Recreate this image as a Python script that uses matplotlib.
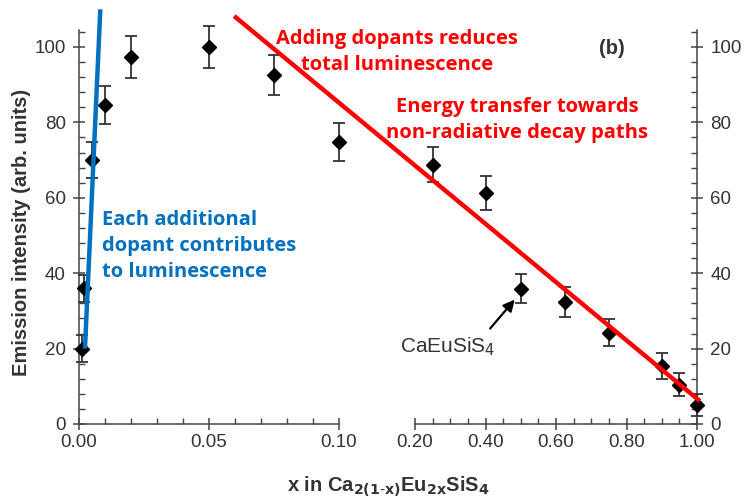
import matplotlib
matplotlib.use("Agg")
import matplotlib.pyplot as plt
from matplotlib.ticker import MultipleLocator, FixedLocator

# Low-concentration region (left panel)
x_low = [0.001, 0.002, 0.005, 0.010, 0.020, 0.050, 0.075, 0.100]
y_low = [20.0, 36.0, 70.0, 84.7, 97.4, 100.0, 92.6, 74.8]
err_low = [3.6, 3.6, 4.7, 5.0, 5.5, 5.6, 5.4, 5.0]

# High-concentration region (right panel)
x_high = [0.25, 0.40, 0.50, 0.625, 0.75, 0.90, 0.95, 1.00]
y_high = [68.8, 61.3, 35.9, 32.4, 24.2, 15.4, 10.4, 5.0]
err_high = [4.6, 4.6, 3.9, 3.9, 3.6, 3.4, 3.0, 3.0]

# Guide lines (data coordinates of their own panel)
blue_x = [0.0023, 0.0082]
blue_y = [20.0, 110.0]
red_x = [-0.313, 1.008]
red_y = [108.2, 6.1]

W, H = 745, 501
fig = plt.figure(figsize=(W / 100, H / 100), dpi=100)
plt.rcParams['font.family'] = ['Liberation Sans', 'DejaVu Sans']

axis_c = '#444444'
text_c = '#333333'
ymax = 104.5

ax1 = fig.add_axes([79 / W, 1 - 424 / H, 260 / W, 394 / H])
ax2 = fig.add_axes([415 / W, 1 - 424 / H, 282 / W, 394 / H])

for ax in (ax1, ax2):
    ax.set_facecolor('none')
    ax.set_ylim(0, ymax)
    for s in ax.spines.values():
        s.set_color(axis_c)
        s.set_linewidth(1.1)
    ax.tick_params(which='major', direction='inout', length=9, width=1.1,
                   color=axis_c, labelsize=13.5, labelcolor=text_c)
    ax.tick_params(which='minor', direction='in', length=4, width=1.0,
                   color=axis_c)
    ax.yaxis.set_major_locator(MultipleLocator(20))
    ax.yaxis.set_minor_locator(MultipleLocator(4))

ax1.set_xlim(0, 0.10)
ax1.spines['right'].set_visible(False)
ax1.spines['top'].set_visible(False)
ax1.xaxis.set_major_locator(FixedLocator([0.0, 0.05, 0.10]))
ax1.xaxis.set_minor_locator(MultipleLocator(0.01))
ax1.set_xticklabels(['0.00', '0.05', '0.10'])

ax2.set_xlim(0.2, 1.0)
ax2.spines['left'].set_visible(False)
ax2.spines['top'].set_visible(False)
ax2.yaxis.tick_right()
ax2.tick_params(axis='y', which='both', left=False, right=True)
ax2.xaxis.set_major_locator(FixedLocator([0.2, 0.4, 0.6, 0.8, 1.0]))
ax2.xaxis.set_minor_locator(MultipleLocator(0.05))
ax2.set_xticklabels(['0.20', '0.40', '0.60', '0.80', '1.00'])

for ax in (ax1, ax2):
    ax.tick_params(axis='x', which='major', pad=3)
    ax.tick_params(axis='y', which='major', pad=5)

eb = dict(fmt='D', color='black', ms=7, ecolor='#333333', elinewidth=1.3,
          capsize=4.5, capthick=1.3, clip_on=False, zorder=3)
for ax, xs, ys, es in ((ax1, x_low, y_low, err_low), (ax2, x_high, y_high, err_high)):
    cont = ax.errorbar(xs, ys, yerr=es, **eb)
    for art in cont.lines[1] + cont.lines[2]:
        art.set_clip_on(False)

ax1.plot(blue_x, blue_y, color='#0070C0', lw=3.2, clip_on=False, zorder=4,
         solid_capstyle='butt')
ax2.plot(red_x, red_y, color='#FF0000', lw=3.2, clip_on=False, zorder=4,
         solid_capstyle='butt')

# Compound label with an arrow pointing at the x = 0.5 sample
ax2.text(0.292, 20.5, 'CaEuSiS$_4$', ha='center', va='center',
         fontsize=15, color=text_c)
ax2.annotate('', xy=(0.483, 33.0), xytext=(0.413, 25.3),
             arrowprops=dict(arrowstyle='-|>', color='black', lw=1.6,
                             mutation_scale=17, shrinkA=0, shrinkB=0))

ann = dict(family=['Open Sans', 'DejaVu Sans'], weight='bold', fontsize=14.5)
fig.text(397 / W, 1 - 52 / H, 'Adding dopants reduces\ntotal luminescence',
         ha='center', va='center', color='#FF0000', linespacing=1.4, **ann)
fig.text(517 / W, 1 - 120 / H, 'Energy transfer towards\nnon-radiative decay paths',
         ha='center', va='center', color='#FF0000', linespacing=1.4, **ann)
fig.text(102 / W, 1 - 246 / H, 'Each additional\ndopant contributes\nto luminescence',
         ha='left', va='center', color='#0070C0', linespacing=1.4, **ann)

fig.text(612 / W, 1 - 48 / H, '(b)', ha='center', va='center', fontsize=14.5,
         weight='bold', color=text_c)

fig.text(22 / W, 1 - 232 / H, 'Emission intensity (arb. units)', rotation=90,
         ha='center', va='center', fontsize=14.5, weight='bold', color=text_c)
fig.text(388 / W, 1 - 487 / H, r'x in Ca$_{\mathbf{2(1\text{-}x)}}$Eu$_{\mathbf{2x}}$SiS$_{\mathbf{4}}$',
         ha='center', va='center', fontsize=14.5, weight='bold', color=text_c)

fig.savefig('out.png', dpi=100)
